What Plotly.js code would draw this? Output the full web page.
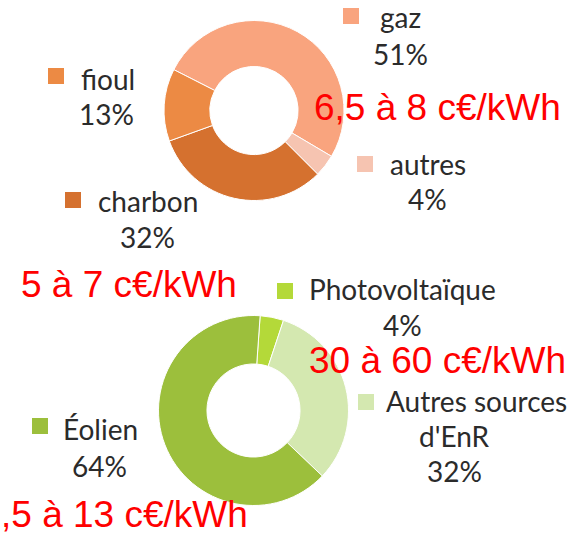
<!DOCTYPE html>
<html>
<head>
<meta charset="utf-8">
<script src="https://cdn.plot.ly/plotly-3.0.1.min.js"></script>
<style>
html,body{margin:0;padding:0;background:#fff;}
#chart{width:567px;height:536px;}
</style>
</head>
<body>
<div id="chart"></div>
<script>
// ---- data ----
const fossilLabels = ['gaz', 'autres', 'charbon', 'fioul'];
const fossilValues = [51, 4, 32, 13];
const fossilColors = ['#F9A47E', '#F6C4B1', '#D5712F', '#EC8A44'];

const renewLabels = ['Photovoltaïque', "Autres sources d'EnR", 'Éolien'];
const renewValues = [4, 32, 64];
const renewColors = ['#B4D939', '#D4E8B0', '#9CBF3C'];

const costTexts = ['6,5 à 8 c€/kWh', '5 à 7 c€/kWh', '30 à 60 c€/kWh', ',5 à 13 c€/kWh'];

// ---- layout helpers (pixel -> paper) ----
const W = 567, H = 536;
const px = x => x / W;
const py = y => 1 - y / H;

function pieDomain(cx, cy, r) {
  return { x: [px(cx - r), px(cx + r)], y: [py(cy + r), py(cy - r)] };
}

const traces = [
  {
    type: 'pie', labels: fossilLabels, values: fossilValues,
    marker: { colors: fossilColors, line: { color: '#ffffff', width: 1 } },
    hole: 0.49, sort: false, direction: 'clockwise', rotation: -63,
    textinfo: 'none', domain: pieDomain(254, 110.5, 90)
  },
  {
    type: 'pie', labels: renewLabels, values: renewValues,
    marker: { colors: renewColors, line: { color: '#ffffff', width: 1 } },
    hole: 0.49, sort: false, direction: 'clockwise', rotation: 4,
    textinfo: 'none', domain: pieDomain(253.5, 410.5, 95)
  }
];

const labelFont = { family: 'Lato, Carlito, sans-serif', size: 28, color: '#2B2B2B' };
const costFont = { family: '"Liberation Sans", Arial, sans-serif', size: 37, color: '#FF0000' };
const LBL_OFF = 0.39 * labelFont.size;  // baseline -> box middle
const COST_OFF = 0.35 * costFont.size;

const annotations = [];
const shapes = [];

function nameAnn(text, xLeft, baseline) {
  annotations.push({ text, x: px(xLeft), y: py(baseline - LBL_OFF), xref: 'paper', yref: 'paper',
    xanchor: 'left', yanchor: 'middle', showarrow: false, font: labelFont, borderpad: 0 });
}
function centerAnn(text, xc, baseline) {
  annotations.push({ text, x: px(xc), y: py(baseline - LBL_OFF), xref: 'paper', yref: 'paper',
    xanchor: 'center', yanchor: 'middle', showarrow: false, font: labelFont, borderpad: 0 });
}
function keySquare(color, x0, y0, size) {
  shapes.push({ type: 'rect', xref: 'paper', yref: 'paper', x0: px(x0), x1: px(x0 + size),
    y0: py(y0 + size), y1: py(y0), fillcolor: color, line: { width: 0 } });
}

// fossil labels: [nameLeft, nameBaseline, pctCenter, pctBaseline, squareX, squareY]
const fossilPos = [
  [379, 28, 400, 65, 343, 8],
  [389, 175, 427, 210, 357, 156],
  [97, 212, 147.5, 248, 65, 192],
  [80, 90, 106, 125, 48, 68]
];
fossilLabels.forEach((lab, i) => {
  const p = fossilPos[i];
  nameAnn(lab, p[0], p[1]);
  centerAnn(fossilValues[i] + '%', p[2], p[3]);
  keySquare(fossilColors[i], p[4], p[5], 16);
});

// renewable labels
const renewPos = [
  [308, 300, 402, 336, 277, 283],
  [385, 412, 454, 482, 358, 394],
  [62, 440, 99, 477, 32, 418]
];
renewLabels.forEach((lab, i) => {
  const p = renewPos[i];
  if (i === 1) {
    const parts = ['Autres sources', "d'EnR"];
    nameAnn(parts[0], p[0], p[1]);
    centerAnn(parts[1], 454, 447);
  } else {
    nameAnn(lab, p[0], p[1]);
  }
  centerAnn(renewValues[i] + '%', p[2], p[3]);
  keySquare(renewColors[i], p[4], p[5], 16);
});

// cost annotations (left, baseline)
const costPos = [[313, 120], [20, 297], [308, 373], [0, 527]];
costTexts.forEach((t, i) => {
  annotations.push({ text: t, x: px(costPos[i][0]), y: py(costPos[i][1] - COST_OFF),
    xref: 'paper', yref: 'paper', xanchor: 'left', yanchor: 'middle',
    showarrow: false, font: costFont, borderpad: 0 });
});

const layout = {
  width: W, height: H,
  margin: { l: 0, r: 0, t: 0, b: 0 },
  showlegend: false,
  paper_bgcolor: '#ffffff', plot_bgcolor: '#ffffff',
  annotations, shapes
};

Plotly.newPlot('chart', traces, layout, { displayModeBar: false, staticPlot: true });
</script>
</body>
</html>
